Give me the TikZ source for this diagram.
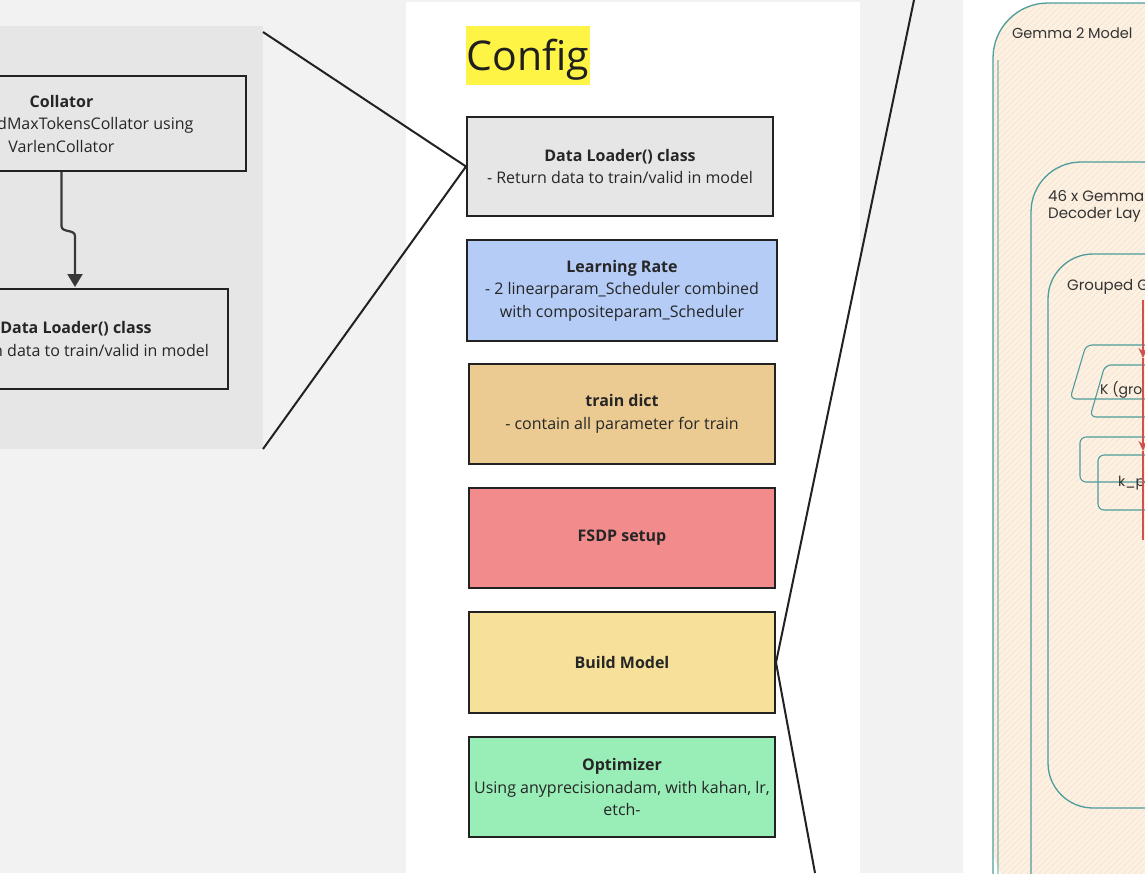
\documentclass[tikz,border=0pt]{standalone}
\usepackage{fontspec}
\setmainfont{Open Sans}
\newfontfamily\handfont{Poppins}
\usetikzlibrary{arrows.meta,calc}
\definecolor{bggray}{HTML}{F2F2F2}
\definecolor{panelgray}{HTML}{E6E6E6}
\definecolor{boxgray}{HTML}{E6E6E6}
\definecolor{lrblue}{HTML}{B5CCF6}
\definecolor{tdtan}{HTML}{EBCB92}
\definecolor{fsred}{HTML}{F28B8C}
\definecolor{bmyellow}{HTML}{F7E19A}
\definecolor{opgreen}{HTML}{99EDB7}
\definecolor{hlyellow}{HTML}{FEF445}
\definecolor{inkline}{HTML}{222222}
\definecolor{tealink}{HTML}{4E9C9C}
\definecolor{beige}{HTML}{FCF1E3}
\definecolor{hatchc}{HTML}{F7E4CB}
\definecolor{redink}{HTML}{D0524E}
\definecolor{handtext}{HTML}{333333}
\tikzset{
  cbox/.style={draw=inkline, line width=2pt, align=center, inner sep=0pt,
    font=\fontsize{16}{22.5}\selectfont, text=black!85},
  link/.style={draw=inkline, line width=2pt},
  sketch/.style={draw=tealink, line width=1.3pt},
  thinsketch/.style={draw=tealink, line width=1.1pt},
  hand/.style={font=\handfont\fontsize{15}{19}\selectfont, text=handtext, anchor=west, inner sep=0pt},
  redarrow/.style={draw=redink, line width=2pt},
}
\begin{document}
\begin{tikzpicture}[x=1pt,y=-1pt]
\useasboundingbox (0,0) rectangle (1145,873);
\clip (0,0) rectangle (1145,873);
% backgrounds
\fill[bggray] (0,0) rectangle (1145,873);
\fill[panelgray] (0,26) rectangle (263,449);
\fill[white] (406,2) rectangle (860,880);
\fill[white] (963,-5) rectangle (1150,880);

% left panel
\node[cbox, fill=boxgray, minimum width=368, minimum height=95] (coll) at (61.5,123.5)
  {\textbf{Collator}\\\makebox[264pt][r]{dMaxTokensCollator using}\\VarlenCollator};
\node[cbox, fill=boxgray, minimum width=304, minimum height=100] (dll) at (76,339)
  {\textbf{Data Loader() class}\\- Return data to train/valid in model};
\draw[link, draw=inkline!90, line width=2.2pt, -{Triangle[width=15pt,length=13pt]}] (coll.south) -- ++(0,54)
  .. controls +(0,7) and +(0,-7) .. ($(dll.north)+(-1,-52)$) -- ($(dll.north)+(-1,-1)$);

% middle panel
\fill[hlyellow] (466,26) rectangle (590,85);
\node[font=\fontsize{41}{45}\selectfont, text=black!88, inner sep=0pt] (cfg) at (528,60) {Config};

\node[cbox, fill=boxgray, minimum width=306, minimum height=99] (dlm) at (620,166.5)
  {\textbf{Data Loader() class}\\- Return data to train/valid in model};
\node[cbox, fill=lrblue, minimum width=310, minimum height=101] (lr) at (622,290.5)
  {\textbf{Learning Rate}\\- 2 linearparam\_Scheduler combined\\with compositeparam\_Scheduler};
\node[cbox, fill=tdtan, minimum width=306, minimum height=100] (td) at (622,414)
  {\textbf{train dict}\\- contain all parameter for train};
\node[cbox, fill=fsred, minimum width=306, minimum height=100] (fsdp) at (622,538)
  {\textbf{FSDP setup}};
\node[cbox, fill=bmyellow, minimum width=306, minimum height=101] (bm) at (622,662.5)
  {\textbf{Build Model}};
\node[cbox, fill=opgreen, minimum width=306, minimum height=100] (opt) at (622,787)
  {\textbf{Optimizer}\\Using anyprecisionadam, with kahan, lr,\\etch-};

% zoom connectors
\coordinate (ltop) at (263,32);
\coordinate (lbot) at (263,449);
\draw[link] (ltop) -- (dlm.west) -- (lbot);
\coordinate (rtop) at (914,0);
\coordinate (rbot) at (815,873);
\draw[link] (rtop) -- (bm.east) -- (rbot);

% right panel (sketch)
\begin{scope}
\clip (963,0) rectangle (1145,873);
\fill[beige, rounded corners=55] (993,900) -- (993,3) -- (1250,3) -- (1250,900) -- cycle;
\begin{scope}
\clip[rounded corners=55] (993,900) -- (993,3) -- (1250,3) -- (1250,900) -- cycle;
\foreach \a in {60,66,...,1150} \draw[hatchc, line width=0.7pt] (\a,880) -- (\a+880,0);
\end{scope}
\draw[sketch, rounded corners=55] (993,880) -- (993,3) -- (1250,3);
\draw[sketch, draw opacity=0.45] (998,880) -- (998,60);
\draw[sketch, rounded corners=50] (1031,880) -- (1031,162) -- (1250,162);
\draw[sketch, rounded corners=45] (1250,808) -- (1048,808) -- (1048,254) -- (1250,254);

\node[hand, font=\handfont\fontsize{14.5}{18}\selectfont] (g2) at (1012,33) {Gemma 2 Model};
\node[hand] (l46) at (1048,196) {46 x Gemma};
\node[hand] (dec) at (1048,215) {Decoder Lay};
\node[hand] (gqa) at (1067,287) {Grouped G};

\draw[thinsketch, rounded corners=6] (1250,345) -- (1086,345) -- (1070,399) -- (1250,399);
\draw[thinsketch, rounded corners=6] (1250,365) -- (1105,365) -- (1090,417) -- (1250,417);
\draw[thinsketch, rounded corners=6] (1250,437) -- (1080,437) -- (1080,482) -- (1250,482);
\draw[thinsketch, rounded corners=6] (1250,455) -- (1098,455) -- (1098,510) -- (1250,510);
\node[hand, font=\handfont\fontsize{14}{18}\selectfont] (kg) at (1100,390) {K (gro};
\node[hand, font=\handfont\fontsize{14}{18}\selectfont] (kp) at (1118,483) {k\_p};

\coordinate (ra) at (1143,300);
\coordinate (rb) at (1143,358);
\coordinate (rc) at (1143,451);
\coordinate (rd) at (1143,540);
\draw[redarrow, -{Stealth[length=10pt,width=9pt]}] (ra) -- (rb);
\draw[redarrow, -{Stealth[length=10pt,width=9pt]}] (rb) -- (rc);
\draw[redarrow] (rc) -- (rd);
\end{scope}
\end{tikzpicture}
\end{document}
